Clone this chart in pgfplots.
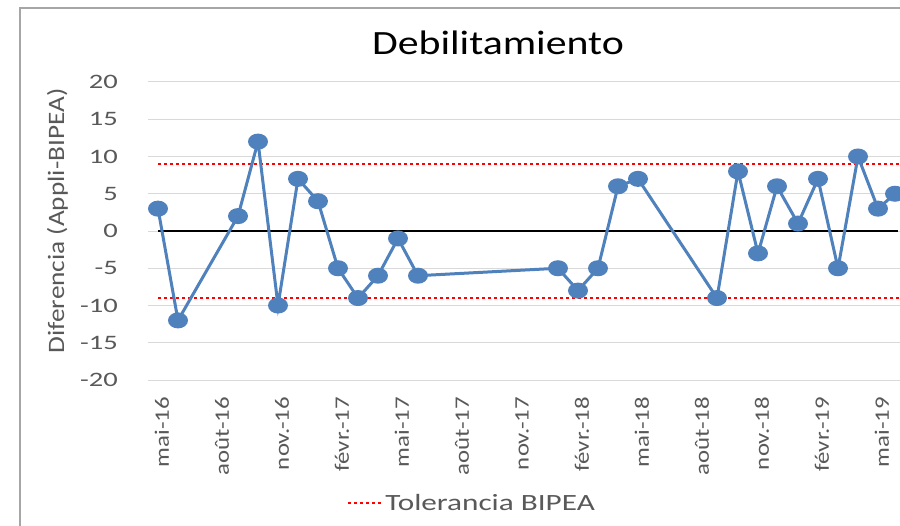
\documentclass[border=0pt]{standalone}
\usepackage{pgfplots}
\pgfplotsset{compat=1.18}
\usepackage{fontspec}
\setmainfont{Carlito}
\newfontfamily\titlefont[FakeStretch=1.23]{Carlito}
\newfontfamily\ytickfont[FakeStretch=1.39]{Carlito}
\newfontfamily\xtickfont[FakeStretch=1.21]{Carlito}
\newfontfamily\legfont[FakeStretch=1.34]{Carlito}
\newfontfamily\ylabfont[FakeStretch=1.16]{Carlito}
\definecolor{tickgray}{HTML}{595959}
\definecolor{gridgray}{HTML}{D9D9D9}
\definecolor{framegray}{HTML}{A6A6A6}
\definecolor{blueline}{HTML}{4F81BD}
\begin{document}
\begin{tikzpicture}[x=1pt,y=1pt]
\useasboundingbox (0,0) rectangle (900,-526);
\fill[white] (0,0) rectangle (900,-526);
\draw[framegray, line width=1.3pt] (20,-530) -- (20,-8) -- (905,-8);
\begin{axis}[
  at={(148pt,-380pt)}, anchor=south west,
  scale only axis, width=752pt, height=298pt,
  xmin=-0.5, xmax=37.1, ymin=-20, ymax=20,
  axis line style={draw=none},
  major tick length=0pt,
  ytick={-20,-15,-10,-5,0,5,10,15,20},
  yticklabels={-20,-15,-10,-5,0,5,10,15,20},
  ymajorgrids, grid style={gridgray, line width=1pt},
  xtick={0,3,6,9,12,15,18,21,24,27,30,33,36},
  xticklabels={mai-16,août-16,nov.-16,févr.-17,mai-17,août-17,nov.-17,févr.-18,mai-18,août-18,nov.-18,févr.-19,mai-19},
  yticklabel style={font=\ytickfont\fontsize{20.5}{24}\selectfont, text=tickgray, anchor=east, inner sep=0pt, xshift=-30pt},
  xticklabel style={font=\xtickfont\fontsize{20.5}{24}\selectfont, text=tickgray, xshift=4pt, rotate=90, anchor=east, inner sep=0pt},
  xticklabel shift=17pt,
  legend style={at={(0.431,-0.413)}, anchor=center, draw=none, fill=none,
    font=\legfont\fontsize{23.3}{28}\selectfont, text=tickgray, nodes={inner xsep=2pt}},
  legend image code/.code={\draw[#1] (0pt,0pt) -- (34pt,0pt);},
]
\addplot[red, line width=2pt, dash pattern=on 3pt off 3pt] coordinates {(0,9) (38,9)};
\addlegendentry{Tolerancia BIPEA}
\addplot[red, line width=2pt, dash pattern=on 3pt off 3pt, forget plot] coordinates {(0,-9) (38,-9)};
\addplot[black, line width=2pt, forget plot] coordinates {(0,0) (37,0)};
\addplot[blueline, line width=3pt, mark=*, mark size=6.5pt,
  mark options={xscale=1.3, solid, fill=blueline, draw=blueline}, forget plot]
  coordinates {
  (0,3) (1,-12) (4,2) (5,12) (6,-10) (7,7) (8,4) (9,-5) (10,-9) (11,-6)
  (12,-1) (13,-6) (20,-5) (21,-8) (22,-5) (23,6) (24,7) (27.95,-9) (29,8)
  (30,-3) (30.95,6) (32,1) (33,7) (34,-5) (35,10) (36,3) (36.85,5)
  };
\end{axis}
\node[font=\titlefont\fontsize{34}{40}\selectfont, text=black, anchor=base] at (498,-55) {Debilitamiento};
\node[font=\ylabfont\fontsize{23.5}{28}\selectfont, text=tickgray, rotate=90, anchor=base] at (64,-221) {Diferencia (Appli-BIPEA)};
\end{tikzpicture}
\end{document}
